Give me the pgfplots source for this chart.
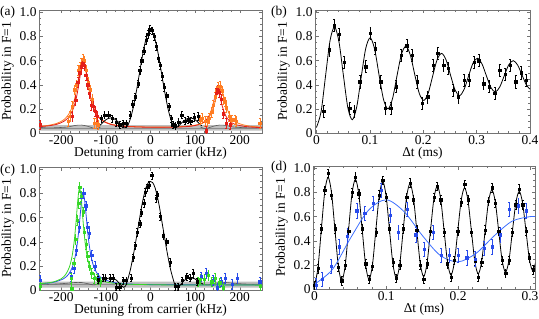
\documentclass[border=0pt]{standalone}
\usepackage{pgfplots}
\pgfplotsset{compat=1.18}
\usepackage{fontspec}
\setmainfont{Liberation Serif}
\newcommand\fs{\fontsize{13.5}{15}\selectfont}
\definecolor{cred}{RGB}{228,30,25}
\definecolor{corange}{RGB}{255,125,35}
\definecolor{cgreen}{RGB}{55,215,40}
\definecolor{cblue}{RGB}{40,75,235}
\definecolor{cblueline}{RGB}{60,110,255}
\pgfplotsset{
  panel/.style={
    scale only axis, height=123bp,
    axis line style={draw=black!55, line width=0.5pt},
    tick style={draw=black!55, line width=0.4pt},
    tick align=inside,
    major tick length=3.5bp, minor tick length=2bp,
    ymin=0, ymax=1.02,
    ytick={0,0.2,0.4,0.6,0.8,1},
    yticklabels={0,0.2,0.4,0.6,0.8,1.0},
    minor y tick num=3,
    ylabel={Probability in F=1},
    tick label style={font=\fs},
    label style={font=\fs},
    xticklabel style={yshift=1bp},
    yticklabel style={xshift=1bp},
    xlabel style={yshift=4bp},
    ylabel style={yshift=-1bp},
  },
  dat/.style={only marks, mark=square*, mark size=1.15pt,
    mark options={fill=., draw=.},
    error bars/y dir=both, error bars/y fixed=#1,
    error bars/error bar style={line width=0.5pt},
    error bars/error mark options={rotate=90, mark size=0.9pt, line width=0.45pt}},
  fit/.style={no marks, smooth, line width=0.8pt},
}
\begin{document}
\begin{tikzpicture}[x=1bp,y=1bp]
\useasboundingbox (0,0) rectangle (539,318);
\node[anchor=west, font=\fs, inner sep=0] at (0,306) {(a)};
\node[anchor=west, font=\fs, inner sep=0] at (271,306) {(b)};
\node[anchor=west, font=\fs, inner sep=0] at (0,148) {(c)};
\node[anchor=west, font=\fs, inner sep=0] at (271,151) {(d)};
% ---------------- (a)
\begin{axis}[panel, at={(39bp,185bp)}, anchor=south west, width=223bp,
  xmin=-250, xmax=250, xtick={-200,-100,0,100,200},
  xticklabels={-200,-100,0,100,200}, minor x tick num=4,
  xlabel={Detuning from carrier (kHz)}]
\addplot[draw=none, fill=black!25] coordinates {(-250,0.02) (250,0.02) (250,0.066) (-250,0.066) (-250,0.02)};
\addplot[black!45, line width=0.4pt] coordinates {(-250,0.043) (250,0.043)};
\addplot[fit, black!65, line width=0.6pt] coordinates {(-250,0.048) (-230,0.042) (-205,0.045) (-185,0.05) (-170,0.062) (-155,0.066) (-140,0.055) (-128,0.04) (-120,0.038) (-112,0.05)};
\addplot[fit, black!65, line width=0.6pt] coordinates {(112,0.05) (120,0.038) (128,0.04) (140,0.055) (155,0.066) (170,0.062) (185,0.05) (205,0.045) (230,0.042) (250,0.048)};
\addplot[fit, corange] coordinates {(-250,0.055) (-230,0.063) (-210,0.080) (-195,0.108) (-185,0.147) (-178,0.194) (-172,0.258) (-167,0.337) (-162,0.443) (-158,0.531) (-155,0.581) (-152,0.60) (-149,0.581) (-146,0.531) (-142,0.443) (-137,0.337) (-132,0.258) (-126,0.194) (-119,0.147) (-109,0.108) (-94,0.080) (-74,0.063) (-50,0.055) (0,0.049) (50,0.050) (90,0.059) (110,0.074) (120,0.091) (130,0.125) (137,0.170) (143,0.234) (148,0.305) (152,0.357) (156,0.38) (160,0.357) (164,0.305) (169,0.234) (175,0.170) (182,0.125) (192,0.091) (202,0.074) (222,0.057) (250,0.048)};
\addplot[fit, cred] coordinates {(-250,0.053) (-230,0.059) (-210,0.072) (-195,0.095) (-185,0.125) (-178,0.163) (-172,0.214) (-166,0.296) (-161,0.398) (-157,0.492) (-153,0.569) (-150,0.59) (-147,0.569) (-143,0.492) (-139,0.398) (-134,0.296) (-128,0.214) (-122,0.163) (-115,0.125) (-105,0.095) (-90,0.072) (-70,0.059) (-50,0.053) (-20,0.049) (0,0.048) (30,0.048) (60,0.049) (90,0.056) (110,0.071) (120,0.091) (128,0.122) (134,0.165) (139,0.222) (143,0.281) (147,0.335) (150,0.351) (153,0.335) (157,0.281) (161,0.222) (166,0.165) (172,0.122) (180,0.091) (190,0.071) (210,0.055) (230,0.048) (250,0.045)};
\addplot[fit, black] coordinates {(-115,0.06) (-110,0.075) (-105,0.095) (-100,0.11) (-95,0.12) (-90,0.125) (-85,0.122) (-80,0.115) (-75,0.10) (-70,0.085) (-65,0.065) (-60,0.05) (-55,0.045) (-50,0.07) (-45,0.12) (-40,0.19) (-35,0.28) (-30,0.38) (-25,0.49) (-20,0.60) (-15,0.70) (-10,0.78) (-5,0.83) (0,0.85) (5,0.83) (10,0.78) (15,0.70) (20,0.60) (25,0.49) (30,0.38) (35,0.28) (40,0.19) (45,0.12) (50,0.07) (55,0.045) (60,0.05) (65,0.065) (70,0.085) (75,0.10) (80,0.115) (85,0.122) (90,0.125) (95,0.12) (100,0.11) (105,0.095) (110,0.075) (115,0.06)};
\addplot[dat=0.04, corange] coordinates {(-185,0.10) (-180,0.14) (-176,0.22) (-170,0.36) (-166,0.40) (-162,0.52) (-158,0.55) (-155,0.58) (-151,0.61) (-148,0.60) (-144,0.52) (-140,0.42) (-136,0.36) (-130,0.28) (-126,0.08) (-122,0.08) (-118,0.07) (111,0.11) (115,0.12) (122,0.10) (127,0.10) (131,0.12) (137,0.17) (141,0.23) (145,0.30) (148,0.35) (152,0.38) (156,0.39) (160,0.35) (163,0.28) (167,0.26) (170,0.21) (176,0.14) (182,0.11) (189,0.11) (192,0.10) (245,0.08)};
\addplot[dat=0.04, cred] coordinates {(-248,0.07) (-175,0.14) (-168,0.27) (-163,0.42) (-159,0.50) (-156,0.55) (-152,0.58) (-148,0.56) (-145,0.48) (-141,0.40) (-137,0.33) (-133,0.23) (-128,0.22) (-124,0.18) (-120,0.14) (125,0.02) (147,0.33) (150,0.36) (154,0.34) (158,0.28) (163,0.16) (170,0.08) (178,0.07)};
\addplot[dat=0.03, black] coordinates {(-110,0.12) (-103,0.15) (-94,0.15) (-86,0.12) (-77,0.09) (-69,0.07) (-62,0.08) (-54,0.08) (-46,0.15) (-40,0.24) (-35,0.30) (-28,0.41) (-24,0.52) (-20,0.60) (-15,0.68) (-10,0.77) (-6,0.82) (-2,0.86) (3,0.85) (8,0.80) (13,0.72) (18,0.62) (22,0.56) (26,0.47) (31,0.38) (36,0.31) (41,0.22) (46,0.12) (50,0.07) (56,0.06) (63,0.09) (70,0.15) (77,0.10) (84,0.11) (90,0.10) (98,0.13) (107,0.14)};
\end{axis}
% ---------------- (b)
\begin{axis}[panel, at={(315bp,185bp)}, anchor=south west, width=215bp,
  xmin=-0.003, xmax=0.4, xtick={0,0.1,0.2,0.3,0.4},
  xticklabels={0,0.1,0.2,0.3,0.4}, minor x tick num=4,
  xlabel={Δt (ms)}]
\addplot[fit, black] coordinates {(0,0.05) (0.0084,0.177) (0.0168,0.475) (0.0251,0.764) (0.0335,0.88) (0.0419,0.757) (0.0503,0.475) (0.0586,0.209) (0.067,0.11) (0.0754,0.221) (0.0838,0.47) (0.0921,0.702) (0.1005,0.79) (0.1089,0.692) (0.1173,0.475) (0.1256,0.275) (0.134,0.20) (0.1424,0.287) (0.1508,0.4775) (0.1591,0.654) (0.1675,0.72) (0.1759,0.643) (0.1843,0.4775) (0.1926,0.326) (0.201,0.27) (0.2094,0.333) (0.2178,0.4775) (0.2261,0.611) (0.2345,0.66) (0.2429,0.603) (0.2513,0.475) (0.2596,0.356) (0.268,0.31) (0.2764,0.361) (0.2848,0.4725) (0.2931,0.579) (0.3015,0.62) (0.3099,0.574) (0.3183,0.4735) (0.3266,0.378) (0.335,0.34) (0.3434,0.383) (0.3518,0.476) (0.3601,0.565) (0.3685,0.60) (0.3769,0.563) (0.3853,0.478) (0.3936,0.394) (0.4,0.365)};
\addplot[dat=0.05, black] coordinates {(0.0133,0.178) (0.024,0.69) (0.033,0.89) (0.042,0.82) (0.052,0.59) (0.062,0.205) (0.071,0.178) (0.081,0.425) (0.092,0.55) (0.101,0.83) (0.110,0.70) (0.120,0.425) (0.129,0.205) (0.139,0.205) (0.149,0.385) (0.158,0.645) (0.169,0.725) (0.179,0.645) (0.188,0.425) (0.198,0.245) (0.208,0.30) (0.218,0.565) (0.227,0.66) (0.238,0.56) (0.247,0.535) (0.256,0.355) (0.266,0.30) (0.276,0.44) (0.286,0.44) (0.295,0.59) (0.304,0.60) (0.313,0.41) (0.323,0.385) (0.334,0.33) (0.343,0.52) (0.353,0.49) (0.363,0.56) (0.373,0.425) (0.383,0.50) (0.393,0.44)};
\end{axis}
% ---------------- (c)
\begin{axis}[panel, at={(39bp,28bp)}, anchor=south west, width=223bp,
  xmin=-250, xmax=250, xtick={-200,-100,0,100,200},
  xticklabels={-200,-100,0,100,200}, minor x tick num=4,
  xlabel={Detuning from carrier (kHz)}]
\addplot[draw=none, fill=black!25] coordinates {(-250,0.02) (250,0.02) (250,0.07) (-250,0.07) (-250,0.02)};
\addplot[black!45, line width=0.4pt] coordinates {(-250,0.045) (250,0.045)};
\addplot[fit, black!65, line width=0.6pt] coordinates {(-250,0.05) (-230,0.048) (-210,0.05) (-190,0.055) (-170,0.062) (-155,0.062) (-140,0.052) (-128,0.042) (-116,0.05)};
\addplot[fit, black!65, line width=0.6pt] coordinates {(116,0.05) (128,0.042) (140,0.052) (155,0.062) (170,0.062) (190,0.055) (210,0.05) (230,0.048) (250,0.05)};
\addplot[fit, cblue] coordinates {(-250,0.051) (-220,0.062) (-195,0.093) (-183,0.134) (-175,0.192) (-169,0.274) (-164,0.39) (-160,0.526) (-157,0.648) (-154,0.755) (-151,0.80) (-148,0.755) (-145,0.648) (-142,0.526) (-138,0.39) (-133,0.274) (-127,0.192) (-119,0.134) (-107,0.093) (-82,0.062) (-52,0.051) (-20,0.046) (50,0.043) (250,0.041)};
\addplot[fit, cgreen] coordinates {(-250,0.0515) (-220,0.065) (-200,0.094) (-190,0.13) (-182,0.189) (-176,0.276) (-171,0.406) (-167,0.563) (-164,0.703) (-161,0.815) (-159,0.84) (-157,0.815) (-154,0.703) (-151,0.563) (-147,0.406) (-142,0.276) (-136,0.189) (-128,0.13) (-118,0.094) (-98,0.065) (-68,0.0515) (-30,0.046) (50,0.042) (250,0.0406)};
\addplot[fit, black] coordinates {(-118,0.05) (-112,0.06) (-105,0.08) (-98,0.095) (-90,0.10) (-82,0.095) (-76,0.08) (-70,0.055) (-65,0.035) (-60,0.022) (-55,0.04) (-50,0.10) (-45,0.17) (-40,0.26) (-35,0.36) (-30,0.47) (-25,0.58) (-20,0.69) (-15,0.78) (-10,0.85) (-5,0.89) (0,0.90) (5,0.89) (10,0.85) (15,0.78) (20,0.69) (25,0.58) (30,0.47) (35,0.36) (40,0.26) (45,0.17) (50,0.10) (55,0.04) (60,0.022) (65,0.035) (70,0.055) (76,0.08) (82,0.095) (90,0.10) (98,0.095) (105,0.08) (112,0.06) (118,0.05)};
\addplot[dat=0.04, cblue] coordinates {(-248,0.08) (-178,0.11) (-172,0.18) (-166,0.33) (-160,0.52) (-155,0.77) (-150,0.80) (-145,0.70) (-141,0.52) (-138,0.47) (-132,0.29) (-125,0.20) (-118,0.10) (113,0.11) (125,0.14) (140,0.08) (150,0.02) (158,0.07) (167,0.10) (183,0.05) (195,0.10) (245,0.07)};
\addplot[dat=0.04, cgreen] coordinates {(-248,0.03) (-177,0.01) (-178,0.10) (-172,0.22) (-168,0.42) (-164,0.58) (-161,0.72) (-159,0.85) (-155,0.78) (-151,0.65) (-148,0.48) (-144,0.38) (-141,0.28) (-137,0.20) (-132,0.14) (-126,0.10) (-120,0.09) (-112,0.07) (107,0.07) (112,0.09) (121,0.09) (130,0.12) (137,0.07) (145,0.10) (155,0.06) (163,0.02) (246,0.03)};
\addplot[dat=0.03, black] coordinates {(-118,0.086) (-106,0.10) (-101,0.10) (-91,0.10) (-84,0.10) (-77,0.025) (-69,0.025) (-62,0.08) (-54,0.08) (-44,0.10) (-39,0.27) (-34,0.37) (-30,0.48) (-24,0.55) (-21,0.64) (-15,0.72) (-12,0.81) (-7,0.85) (-3,0.87) (3,0.95) (12,0.76) (15,0.79) (21,0.61) (29,0.45) (36,0.40) (44,0.23) (55,0.03) (62,0.03) (71,0.08) (81,0.11) (89,0.10) (96,0.14) (104,0.07)};
\end{axis}
% ---------------- (d)
\begin{axis}[panel, at={(313bp,29bp)}, anchor=south west, width=222bp,
  xmin=-0.002, xmax=0.307, xtick={0,0.1,0.2,0.3},
  xticklabels={0,0.1,0.2,0.3}, minor x tick num=4,
  xlabel={Δt (ms)}]
\addplot[fit, black] coordinates {(0,0.03) (0.00475,0.170) (0.0095,0.488) (0.01425,0.801) (0.019,0.927) (0.02375,0.799) (0.0285,0.493) (0.03325,0.190) (0.038,0.067) (0.04275,0.192) (0.0475,0.492) (0.05225,0.789) (0.057,0.91) (0.06175,0.786) (0.0665,0.491) (0.07125,0.198) (0.076,0.079) (0.08075,0.200) (0.0855,0.49) (0.09025,0.776) (0.095,0.893) (0.09975,0.773) (0.1045,0.488) (0.10925,0.206) (0.114,0.09) (0.11875,0.207) (0.1235,0.487) (0.12825,0.763) (0.133,0.874) (0.13775,0.758) (0.1425,0.484) (0.14725,0.213) (0.152,0.102) (0.15675,0.215) (0.1615,0.483) (0.16625,0.748) (0.171,0.855) (0.17575,0.745) (0.1805,0.482) (0.18525,0.220) (0.19,0.115) (0.19475,0.222) (0.1995,0.481) (0.20425,0.736) (0.209,0.839) (0.21375,0.732) (0.2185,0.479) (0.22325,0.228) (0.228,0.125) (0.23275,0.229) (0.2375,0.478) (0.24225,0.724) (0.247,0.823) (0.25175,0.721) (0.2565,0.477) (0.26125,0.236) (0.266,0.14) (0.27075,0.239) (0.2755,0.477) (0.28025,0.713) (0.285,0.81) (0.28975,0.711) (0.2945,0.477) (0.29925,0.245) (0.304,0.15) (0.30875,0.245)};
\addplot[fit, cblueline] coordinates {(0,0.04) (0.025,0.162) (0.05,0.42) (0.075,0.652) (0.1,0.74) (0.125,0.64) (0.15,0.445) (0.175,0.279) (0.2,0.225) (0.225,0.296) (0.25,0.44) (0.275,0.562) (0.3,0.60) (0.31,0.598)};
\addplot[dat=0.035, black] coordinates {(0,0.03) (0.00475,0.17) (0.0095,0.50) (0.01425,0.82) (0.019,0.96) (0.02375,0.78) (0.0285,0.50) (0.03325,0.18) (0.038,0.07) (0.04275,0.20) (0.0475,0.48) (0.05225,0.80) (0.057,0.93) (0.06175,0.79) (0.0665,0.50) (0.07125,0.21) (0.076,0.08) (0.08075,0.19) (0.0855,0.47) (0.09025,0.78) (0.095,0.90) (0.09975,0.76) (0.1045,0.50) (0.10925,0.22) (0.114,0.09) (0.11875,0.20) (0.1235,0.50) (0.12825,0.76) (0.133,0.88) (0.13775,0.74) (0.1425,0.49) (0.14725,0.20) (0.152,0.08) (0.15675,0.21) (0.1615,0.48) (0.16625,0.76) (0.171,0.85) (0.17575,0.74) (0.1805,0.47) (0.18525,0.21) (0.19,0.10) (0.19475,0.24) (0.1995,0.48) (0.20425,0.72) (0.209,0.87) (0.21375,0.74) (0.2185,0.47) (0.22325,0.23) (0.228,0.10) (0.23275,0.22) (0.2375,0.49) (0.24225,0.73) (0.247,0.84) (0.25175,0.71) (0.2565,0.48) (0.26125,0.24) (0.266,0.13) (0.27075,0.24) (0.2755,0.47) (0.28025,0.70) (0.285,0.83) (0.28975,0.70) (0.2945,0.48) (0.29925,0.26) (0.304,0.16)};
\addplot[dat=0.06, cblue] coordinates {(0.002,0.03) (0.0105,0.08) (0.023,0.19) (0.034,0.35) (0.046,0.44) (0.059,0.65) (0.070,0.63) (0.082,0.71) (0.093,0.82) (0.105,0.61) (0.117,0.47) (0.129,0.66) (0.141,0.45) (0.153,0.33) (0.165,0.47) (0.176,0.28) (0.188,0.28) (0.200,0.28) (0.212,0.26) (0.224,0.25) (0.236,0.34) (0.247,0.35) (0.259,0.45) (0.271,0.66) (0.284,0.69) (0.295,0.65)};
\end{axis}
\end{tikzpicture}
\end{document}
